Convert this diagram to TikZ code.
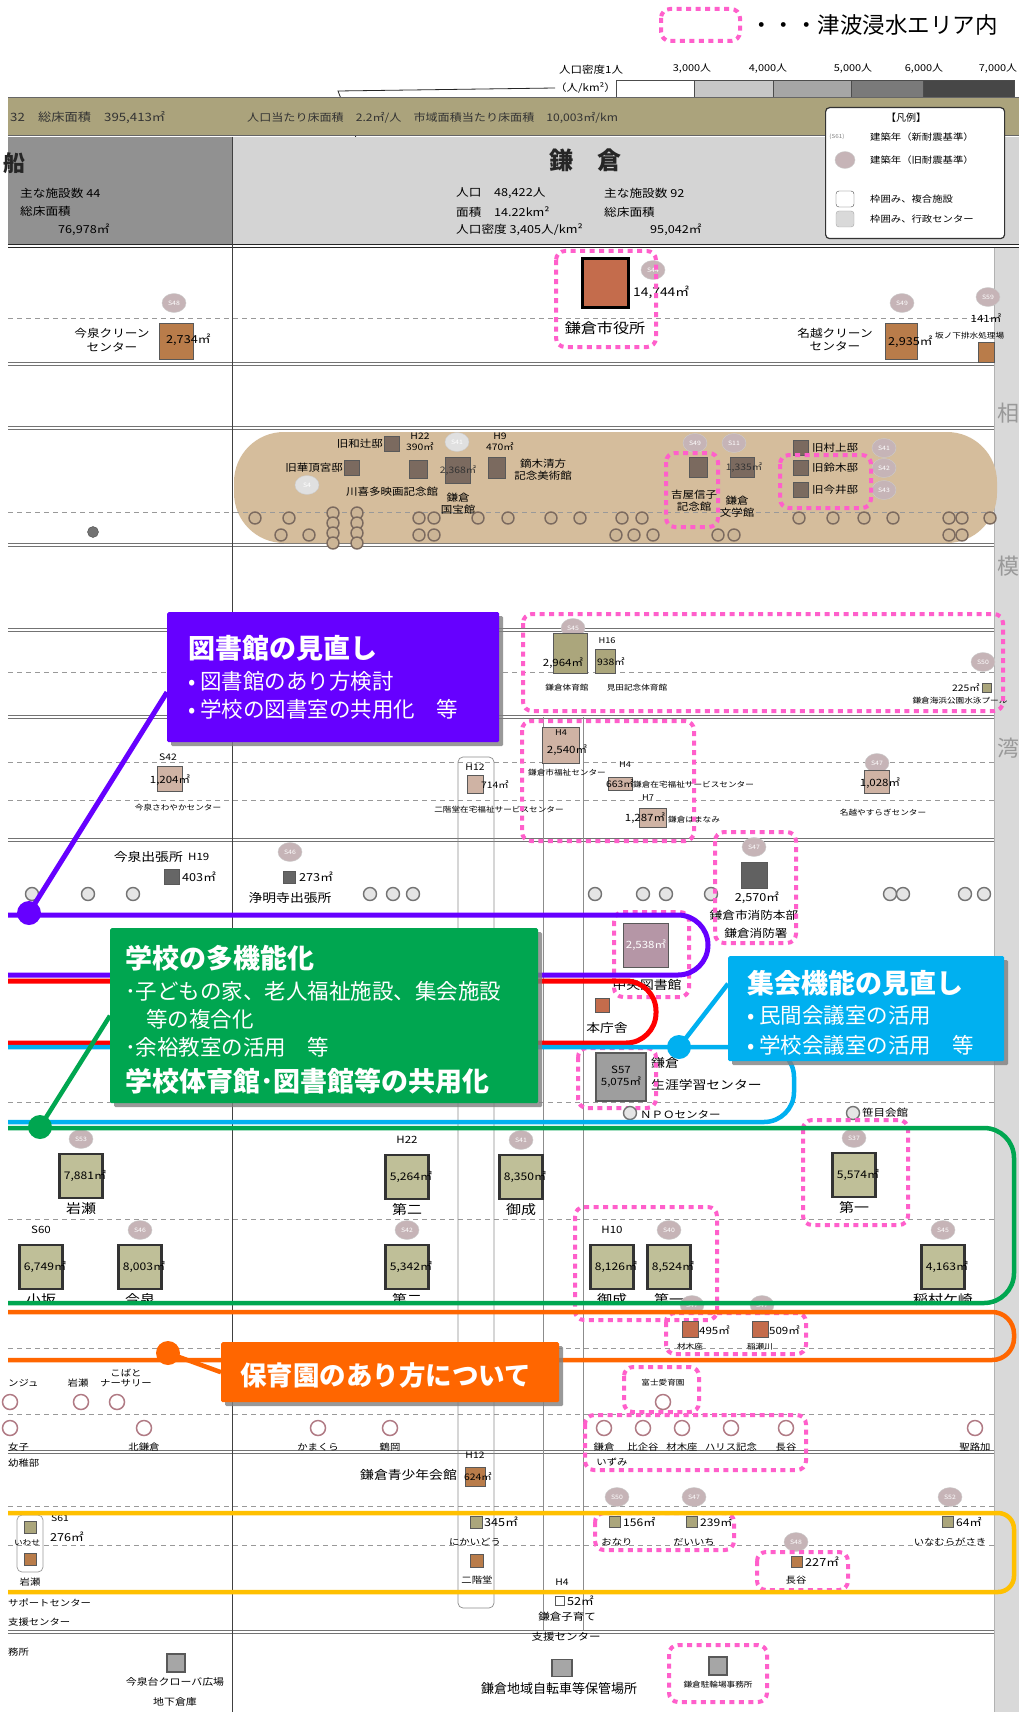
\documentclass[tikz,border=0pt]{standalone}
\usepackage{fontspec}
\setmainfont{Noto Sans CJK JP}
\newfontfamily\mapfont[FakeStretch=1.15]{Noto Sans CJK JP}
\usetikzlibrary{shapes.geometric,shadows}
\definecolor{tsunami}{HTML}{FF5FCB}
\definecolor{libpurple}{HTML}{6600FF}
\definecolor{schgreen}{HTML}{00A650}
\definecolor{mtgblue}{HTML}{00B0F0}
\definecolor{nurorange}{HTML}{FF6600}
\definecolor{kidyellow}{HTML}{FFC000}
\definecolor{bandolive}{HTML}{ABA37C}
\definecolor{tanband}{HTML}{D5BD9C}
\definecolor{oldbadge}{HTML}{C6B4B7}
\definecolor{hallbrown}{HTML}{C46C4C}
\definecolor{cleanbrown}{HTML}{B97C4A}
\definecolor{heritage}{HTML}{7B6A5F}
\definecolor{schoolfill}{HTML}{BFBF98}
\definecolor{welfare}{HTML}{CFB3A4}
\definecolor{sportfill}{HTML}{ABA67C}
\definecolor{libmauve}{HTML}{B596A6}
\definecolor{nurring}{HTML}{B07A84}
\newcommand{\mapsz}[1]{\mapfont\fontsize{#1}{\fpeval{1.2*#1}}\selectfont}
\newcommand{\boxsz}[1]{\fontsize{#1}{\fpeval{1.2*#1}}\selectfont}

\begin{document}
\begin{tikzpicture}[x=1pt, y=-1pt,
  zone/.style={draw=tsunami, line width=4pt, dash pattern=on 5pt off 4.5pt, rounded corners=9pt},
  rowsep/.style={draw=black!55, line width=0.6pt, double, double distance=2.2pt},
  subrow/.style={draw=black!40, line width=0.7pt, dash pattern=on 5pt off 4pt},
  sq/.style={draw=black!65, line width=0.7pt, inner sep=0pt, minimum size=16pt},
  school/.style={draw=black!80, line width=2.5pt, fill=schoolfill, inner sep=0pt, minimum width=43pt, minimum height=44pt},
  badge/.style={ellipse, fill=oldbadge, draw=black!20, inner sep=0pt, minimum width=24pt, minimum height=19pt, font=\mapsz{6}, text=white},
  yrplain/.style={inner sep=0pt, font=\mapsz{10}},
  ring/.style={circle, draw=black!55, line width=1.4pt, fill=black!10, minimum size=13pt, inner sep=0pt},
  bandring/.style={circle, draw=heritage, line width=1.4pt, fill=tanband!80!black!20!tanband, minimum size=12pt, inner sep=0pt},
  nring/.style={circle, draw=nurring, line width=1.5pt, fill=white, minimum size=15pt, inner sep=0pt},
  num/.style={inner sep=0pt, font=\mapsz{10}},
  labS/.style={inner sep=0pt, align=center, font=\mapsz{7.5}},
  labM/.style={inner sep=0pt, align=center, font=\mapsz{9}},
  labL/.style={inner sep=0pt, align=center, font=\mapsz{11}},
  labXL/.style={inner sep=0pt, align=center, font=\mapsz{14}},
  callbox/.style={anchor=north west, inner sep=0pt, rounded corners=1.5pt,
    drop shadow={shadow xshift=4pt, shadow yshift=-4pt, fill=black!50, opacity=0.8}},
  calltitle/.style={anchor=west, inner sep=0pt, text=white, font=\boxsz{27}\bfseries},
  callitem/.style={anchor=west, inner sep=0pt, text=white, font=\boxsz{21.5}},
  calldot/.style={circle, inner sep=0pt, minimum size=24pt}]
\useasboundingbox (0,0) rectangle (1019,1712);
\fill[white] (0,0) rectangle (1019,1712);
% ---------------- key and density scale ----------------
\draw[zone] (661,9) rectangle (740,41);
\node[anchor=west, inner sep=0pt, font=\boxsz{22.5}] (tzkey) at (750,25) {・・・津波浸水エリア内};
\node[anchor=west, inner sep=0pt, font=\mapsz{10}] (denslab) at (559,70) {人口密度1人};
\node[anchor=west, inner sep=0pt, font=\mapsz{10}] (densunit) at (555,88) {（人/km²）};
\foreach \a/\b/\c in {616/694/white, 694/773/black!22, 773/851/black!35, 851/923/black!52, 923/1014/black!72}
  \draw[black!70, fill=\c] (\a,80) rectangle (\b,97);
\foreach \p/\t [count=\i] in {692/3,768/4,853/5,924/6,998/7}
  \node[inner sep=0pt, font=\mapsz{9.5}] (dens\i) at (\p,69) {\t,000人};
\coordinate (ptrbend) at (338,91);
\coordinate (ptrend) at (377,192);
\draw[black!85, line width=0.8pt] (densunit.west) -- (ptrbend) -- (ptrend);
% ---------------- header ----------------
\fill[bandolive] (8,98) rectangle (1019,136);
\draw[black!60, line width=1pt] (8,98) -- (1019,98) (8,136) -- (1019,136);
\node[anchor=west, inner sep=0pt, font=\mapsz{11.5}, text=black!80] (totfloor) at (10,118) {32　総床面積　395,413㎡};
\node[anchor=west, inner sep=0pt, font=\mapsz{10.5}, text=black!80] (perfloor) at (247,118)
  {人口当たり床面積　2.2㎡/人　市域面積当たり床面積　10,003㎡/km};
\fill[black!43] (8,137) rectangle (232,245);
\fill[black!17] (232,137) rectangle (1019,245);
\draw[black!85, line width=1.2pt, double, double distance=2pt] (8,246) -- (1019,246);
\node[inner sep=0pt, font=\boxsz{22}\bfseries, text=black!85] (ofuna) at (14,163) {船};
\node[anchor=west, inner sep=0pt, font=\mapsz{11}] (ofn1) at (20,193) {主な施設数 44};
\node[anchor=west, inner sep=0pt, font=\mapsz{11}] (ofn2) at (20,211) {総床面積};
\node[anchor=west, inner sep=0pt, font=\mapsz{11}] (ofn3) at (58,230) {76,978㎡};
\node[inner sep=0pt, font=\boxsz{24}\bfseries, text=black!85] (kamakura) at (585,160) {鎌　倉};
\node[anchor=west, inner sep=0pt, font=\mapsz{11}] (kmk1) at (456,193) {人口　48,422人};
\node[anchor=west, inner sep=0pt, font=\mapsz{11}] (kmk2) at (456,212) {面積　14.22km²};
\node[anchor=west, inner sep=0pt, font=\mapsz{11}] (kmk3) at (456,230) {人口密度 3,405人/km²};
\node[anchor=west, inner sep=0pt, font=\mapsz{11}] (kmk4) at (604,193) {主な施設数 92};
\node[anchor=west, inner sep=0pt, font=\mapsz{11}] (kmk5) at (604,212) {総床面積};
\node[anchor=west, inner sep=0pt, font=\mapsz{11}] (kmk6) at (650,230) {95,042㎡};
\node[draw=black!80, line width=1.2pt, fill=white, rounded corners=4pt, minimum width=179pt, minimum height=131pt, anchor=north west] (legend) at (825,107) {};
\node[inner sep=0pt, font=\boxsz{10}] (legtitle) at (906,118) {【凡例】};
\node[inner sep=0pt, font=\mapsz{5.5}, text=black!50] (legnew) at (837,137) {(S61)};
\node[anchor=west, inner sep=0pt, font=\mapsz{9}] (legnewtxt) at (870,137) {建築年（新耐震基準）};
\node[badge, minimum width=20pt, minimum height=17pt] (legold) at (845,160) {};
\node[anchor=west, inner sep=0pt, font=\mapsz{9}] (legoldtxt) at (870,160) {建築年（旧耐震基準）};
\node[draw=black!70, fill=white, rounded corners=3pt, minimum width=18pt, minimum height=16pt] (legcomp) at (845,199) {};
\node[anchor=west, inner sep=0pt, font=\mapsz{9}] (legcomptxt) at (870,199) {枠囲み、複合施設};
\node[draw=black!35, fill=black!15, rounded corners=3pt, minimum width=18pt, minimum height=16pt] (legadm) at (845,219) {};
\node[anchor=west, inner sep=0pt, font=\mapsz{9}] (legadmtxt) at (870,219) {枠囲み、行政センター};
% ---------------- grid ----------------
\fill[black!15] (994,248) rectangle (1019,1712);
\draw[black!30] (994,248) -- (994,1712);
\node[inner sep=0pt, font=\boxsz{22}, text=black!40] (sagami1) at (1008,413) {相};
\node[inner sep=0pt, font=\boxsz{22}, text=black!40] (sagami2) at (1008,566) {模};
\node[inner sep=0pt, font=\boxsz{22}, text=black!40] (sagami3) at (1008,748) {湾};
\foreach \y in {364,428,545,630,717,840,1452,1632}
  \draw[rowsep] (8,\y) -- (994,\y);
\foreach \y in {318,512,672,762,800,1102,1219,1348,1414,1506,1545}
  \draw[subrow] (8,\y) -- (994,\y);
\draw[black!75, line width=1pt] (232,137) -- (232,1712);
\draw[black!45, line width=0.7pt, rounded corners=5pt] (458,757) rectangle (494,1608);
\draw[black!45, line width=0.7pt] (543,717) -- (543,1630) (583,717) -- (583,1630);
% ---------------- row 1: city hall, clean centres ----------------
\node[sq, fill=hallbrown, draw=black, line width=3pt, minimum width=46pt, minimum height=49pt] (hall) at (605,283) {};
\node[badge] (hallyr) at (653,270) {S44};
\node[anchor=west, num, font=\mapsz{12}] (hallarea) at (633,292) {14,744㎡};
\node[labXL] (halllab) at (605,328) {鎌倉市役所};
\draw[zone] (556,251) rectangle (656,347);
\node[sq, fill=cleanbrown, minimum width=34pt, minimum height=36pt] (imaclean) at (176,341) {};
\node[badge] (imacleanyr) at (174,303) {S48};
\node[anchor=west, num, font=\mapsz{11}] (imacleanar) at (166,340) {2,734㎡};
\node[labL] (imacleanlab) at (112,340) {今泉クリーン\\センター};
\node[sq, fill=cleanbrown, minimum width=32pt, minimum height=36pt] (nagoclean) at (901,341) {};
\node[badge] (nagocleanyr) at (902,303) {S49};
\node[anchor=west, num, font=\mapsz{11}] (nagocleanar) at (888,342) {2,935㎡};
\node[labL] (nagocleanlab) at (835,340) {名越クリーン\\センター};
\node[sq, fill=cleanbrown, minimum width=16pt, minimum height=20pt] (sakano) at (986,352) {};
\node[badge] (sakanoyr) at (988,297) {S59};
\node[num] (sakanoar) at (986,318) {141㎡};
\node[anchor=west, inner sep=0pt, font=\mapsz{7.5}] (sakanolab) at (935,336) {坂ノ下排水処理場};
% ---------------- row 3: heritage band ----------------
\fill[tanband, rounded corners=50pt] (234,432) rectangle (997,543);
\draw[subrow] (234,512) -- (994,512);
\node[sq, fill=heritage, minimum size=15pt] (watsuji) at (392,444) {};
\node[anchor=east, labM, font=\mapsz{10}] (watsujilab) at (383,444) {旧和辻邸};
\node[sq, fill=heritage, minimum size=15pt] (kacho) at (352,468) {};
\node[anchor=east, labM, font=\mapsz{10}] (kacholab) at (343,468) {旧華頂宮邸};
\node[badge, fill=black!12] (kachoyr) at (307,485) {S4};
\node[sq, fill=heritage, minimum width=18pt, minimum height=18pt] (kawa) at (418,469) {};
\node[labM] (kawaar) at (420,442) {H22\\390㎡};
\node[labM, font=\mapsz{10}] (kawalab) at (392,492) {川喜多映画記念館};
\node[badge, fill=black!12] (kokuyr) at (457,442) {S41};
\node[sq, fill=heritage, minimum width=25pt, minimum height=26pt] (koku) at (458,470) {};
\node[num, font=\mapsz{9}, text=black!80] (kokuar) at (458,470) {2,368㎡};
\node[labM, font=\mapsz{10}] (kokulab) at (458,504) {鎌倉\\国宝館};
\node[sq, fill=heritage, minimum width=17pt, minimum height=21pt] (kabu) at (497,468) {};
\node[labM] (kabuar) at (500,442) {H9\\470㎡};
\node[labM, font=\mapsz{10}] (kabulab) at (543,470) {鏑木清方\\記念美術館};
\node[badge] (yoshiyr) at (695,443) {S49};
\node[sq, fill=heritage, minimum width=18pt, minimum height=20pt] (yoshi) at (698,467) {};
\node[labM, font=\mapsz{10}] (yoshilab) at (694,501) {吉屋信子\\記念館};
\draw[zone] (666,453) rectangle (718,527);
\node[badge] (bungyr) at (734,443) {S11};
\node[sq, fill=heritage, minimum width=24pt, minimum height=20pt] (bungaku) at (742,467) {};
\node[num, font=\mapsz{9}, text=black!80] (bungar) at (744,467) {1,335㎡};
\node[labM, font=\mapsz{10}] (bunglab) at (737,507) {鎌倉\\文学館};
\foreach \yy/\nm [count=\i] in {448/旧村上邸,468/旧鈴木邸,490/旧今井邸}{
  \node[sq, fill=heritage, minimum size=15pt] (old\i) at (801,\yy) {};
  \node[anchor=west, labM, font=\mapsz{10}] (oldlab\i) at (812,\yy) {\nm};
  \node[badge] (oldyr\i) at (884,\yy) {S4\i};}
\draw[zone] (780,455) rectangle (871,508);
\foreach \cx [count=\i] in {255,289,419,434,478,508,551,580,622,642,799,833,864,893,949,962,990}
  \node[bandring] (bt\i) at (\cx,518) {};
\foreach \cx [count=\i] in {281,309,419,434,616,634,653,718,734,949,962}
  \node[bandring] (bb\i) at (\cx,535) {};
\foreach \cy [count=\i] in {513,523,533,543}{
  \node[bandring] (bsa\i) at (333,\cy) {};
  \node[bandring] (bsb\i) at (357,\cy) {};}
\node[circle, fill=black!55, draw=black!70, minimum size=11pt, inner sep=0pt] (lonering) at (93,532) {};
% ---------------- row 5: sports ----------------
\node[badge] (chutaiyr) at (573,628) {S45};
\node[sq, fill=sportfill, minimum width=34pt, minimum height=40pt] (chutai) at (570,653) {};
\node[num] (chutaiar) at (563,663) {2,964㎡};
\node[labS] (chutailab) at (567,688) {鎌倉体育館};
\node[num, font=\mapsz{8}] (mitayr) at (607,641) {H16};
\node[sq, fill=sportfill, minimum width=20pt, minimum height=24pt] (mita) at (605,661) {};
\node[num, font=\mapsz{9}] (mitaar) at (611,662) {938㎡};
\node[labS] (mitalab) at (637,688) {見田記念体育館};
\node[badge] (poolyr) at (983,662) {S50};
\node[sq, fill=sportfill, minimum size=9pt] (pool) at (987,688) {};
\node[num, font=\mapsz{9}] (poolar) at (966,688) {225㎡};
\node[labS] (poollab) at (960,701) {鎌倉海浜公園水泳プール};
\draw[zone] (523,614) rectangle (1003,711);
% ---------------- row 6: welfare ----------------
\node[num, font=\mapsz{9}] (sawayr) at (168,757) {S42};
\node[sq, fill=welfare, minimum size=25pt] (sawa) at (170,779) {};
\node[num] (sawaar) at (170,780) {1,204㎡};
\node[labS] (sawalab) at (178,808) {今泉さわやかセンター};
\node[num, font=\mapsz{9}] (nikaiyr) at (475,767) {H12};
\node[sq, fill=welfare, minimum width=16pt, minimum height=18pt] (nikai) at (475,784) {};
\node[anchor=west, num, font=\mapsz{9}] (nikaiar) at (481,785) {714㎡};
\node[labS] (nikailab) at (499,810) {二階堂在宅福祉サービスセンター};
\node[sq, fill=welfare, minimum width=37pt, minimum height=36pt] (fukushi) at (561,745) {};
\node[num, font=\mapsz{8}] (fukushiyr) at (561,733) {H4};
\node[num] (fukushiar) at (567,750) {2,540㎡};
\node[labS] (fukushilab) at (567,773) {鎌倉市福祉センター};
\node[num, font=\mapsz{8}] (zaitakuyr) at (625,765) {H4};
\node[sq, fill=welfare, minimum width=24pt, minimum height=13pt] (zaitaku) at (620,784) {};
\node[num, font=\mapsz{9}] (zaitakuar) at (620,784) {663㎡};
\node[anchor=west, labS] (zaitakulab) at (633,785) {鎌倉在宅福祉サービスセンター};
\node[num, font=\mapsz{8}] (hamayr) at (648,798) {H7};
\node[sq, fill=welfare, minimum width=27pt, minimum height=19pt] (hama) at (653,818) {};
\node[num] (hamaar) at (645,818) {1,287㎡};
\node[anchor=west, labS] (hamalab) at (668,820) {鎌倉はまなみ};
\draw[zone] (522,721) rectangle (694,841);
\node[badge] (yasuyr) at (877,763) {S47};
\node[sq, fill=welfare, minimum width=25pt, minimum height=23pt] (yasu) at (877,782) {};
\node[num] (yasuar) at (880,783) {1,028㎡};
\node[labS] (yasulab) at (883,813) {名越やすらぎセンター};
% ---------------- row 7: branch offices ----------------
\node[anchor=east, labL, font=\mapsz{12}] (imade) at (183,857) {今泉出張所};
\node[anchor=west, num] (imadeyr) at (188,857) {H19};
\node[sq, fill=black!60, minimum size=15pt] (imadesq) at (172,877) {};
\node[anchor=west, num, font=\mapsz{11}] (imadear) at (182,877) {403㎡};
\node[badge] (jomyoyr) at (290,852) {S46};
\node[sq, fill=black!60, minimum size=12pt] (jomyosq) at (289,877) {};
\node[anchor=west, num, font=\mapsz{11}] (jomyoar) at (299,877) {273㎡};
\node[labL, font=\mapsz{12}] (jomyo) at (290,898) {浄明寺出張所};
\foreach \cx [count=\i] in {32,88,133,370,393,413,595,643,666,711,890,903,965,984}
  \node[ring] (ad\i) at (\cx,894) {};
\node[badge] (fireyr) at (754,847) {S47};
\node[sq, fill=black!62, minimum size=26pt] (fire) at (754,875) {};
\node[num, font=\mapsz{11}] (firear) at (757,898) {2,570㎡};
\node[labL] (firelab1) at (754,915) {鎌倉市消防本部};
\node[labL] (firelab2) at (756,933) {鎌倉消防署};
\draw[zone] (715,832) rectangle (796,943);
% ---------------- library, meeting rooms ----------------
\node[sq, fill=libmauve, minimum width=45pt, minimum height=44pt] (chuolib) at (646,945) {};
\node[num, text=white] (chuolibar) at (646,945) {2,538㎡};
\node[labL, font=\mapsz{12}] (chuoliblab) at (647,985) {中央図書館};
\draw[zone] (614,912) rectangle (689,997);
\node[sq, fill=hallbrown, minimum size=14pt] (honcho) at (602,1005) {};
\node[labL, font=\mapsz{12}] (honcholab) at (607,1028) {本庁舎};
\node[sq, fill=black!38, draw=black!65, line width=1.5pt, minimum width=50pt, minimum height=48pt] (shogai) at (621,1077) {};
\node[labM, font=\mapsz{10}] (shogaiar) at (621,1077) {S57\\5,075㎡};
\node[anchor=west, labL, font=\mapsz{12}] (shogailab1) at (651,1063) {鎌倉};
\node[anchor=west, labL, font=\mapsz{12}] (shogailab2) at (651,1085) {生涯学習センター};
\draw[zone] (578,1048) rectangle (656,1108);
\node[ring] (npo) at (630,1113) {};
\node[anchor=west, labM, font=\mapsz{10}] (npolab) at (640,1115) {ＮＰＯセンター};
\node[ring] (sasa) at (853,1113) {};
\node[anchor=west, labM, font=\mapsz{10}] (sasalab) at (862,1113) {笹目会館};
% ---------------- schools ----------------
\foreach \nm/\cx/\cy/\ar/\yr/\bs/\tx in
  {iwase/81/1176/{7,881}/S53/badge/岩瀬, dai2j/407/1177/{5,264}/H22/yrplain/第二,
   onarij/521/1177/{8,350}/S41/badge/御成, dai1j/854/1175/{5,574}/S37/badge/第一,
   kosaka/41/1267/{6,749}/S60/yrplain/小坂, imaizumi/140/1267/{8,003}/S46/badge/今泉,
   dai2e/407/1267/{5,342}/S42/badge/第二, onarie/612/1267/{8,126}/H10/yrplain/御成,
   dai1e/669/1267/{8,524}/S40/badge/第一, inamura/943/1267/{4,163}/S45/badge/稲村ケ崎}{
  \node[school] (\nm) at (\cx,\cy) {};
  \node[num, font=\mapsz{10.5}] (\nm ar) at (\cx+4,\cy) {\ar㎡};
  \node[\bs] (\nm yr) at (\cx,\cy-37) {\yr};
  \node[labXL, font=\mapsz{13}] (\nm lab) at (\cx,\cy+33) {\tx};}
\draw[zone] (803,1120) rectangle (908,1225);
\draw[zone] (575,1207) rectangle (717,1320);
% ---------------- children's houses, nurseries ----------------
\foreach \nm/\cx/\ar/\tx in {zaimoku/690/495/材木座, inase/760/509/稲瀬川}{
  \node[badge] (\nm yr) at (\cx+2,1305) {S47};
  \node[sq, fill=hallbrown, minimum size=16pt] (\nm) at (\cx,1329) {};
  \node[anchor=west, num] (\nm ar) at (\cx+9,1330) {\ar㎡};
  \node[labS] (\nm lab) at (\cx,1347) {\tx};}
\draw[zone] (666,1313) rectangle (806,1354);
\node[anchor=west, labM] (nur1lab) at (8,1383) {ンジュ};
\node[nring] (nur1) at (10,1402) {};
\node[labM] (nur2lab) at (78,1383) {岩瀬};
\node[nring] (nur2) at (81,1402) {};
\node[labM] (nur3lab) at (126,1378) {こばと\\ナーサリー};
\node[nring] (nur3) at (117,1402) {};
\node[labS] (fujilab) at (663,1383) {富士愛育園};
\node[nring] (fuji) at (663,1402) {};
\draw[zone] (624,1367) rectangle (699,1412);
\node[nring] (kin0) at (10,1428) {};
\node[anchor=west, labM] (kin0lab) at (8,1447) {女子};
\node[anchor=west, labM] (kin0lab2) at (8,1463) {幼稚部};
\foreach \cx/\tx [count=\i] in {144/北鎌倉, 318/かまくら, 390/鶴岡, 604/鎌倉, 643/比企谷, 682/材木座, 731/ハリス記念, 786/長谷, 975/聖路加}{
  \node[nring] (kin\i) at (\cx,1428) {};
  \node[labM] (kin\i lab) at (\cx,1447) {\tx};}
\node[labM] (kin4lab2) at (612,1462) {いずみ};
\draw[zone] (585,1415) rectangle (806,1470);
% ---------------- youth and child-care ----------------
\node[num, font=\mapsz{9}] (seishoyr) at (475,1455) {H12};
\node[sq, fill=cleanbrown, minimum width=20pt, minimum height=19pt] (seisho) at (475,1477) {};
\node[num, font=\mapsz{9}] (seishoar) at (478,1477) {624㎡};
\node[anchor=east, labL, font=\mapsz{12}] (seisholab) at (457,1475) {鎌倉青少年会館};
\node[sq, fill=sportfill, minimum size=12pt] (nkd1) at (476,1522) {};
\node[anchor=west, num, font=\mapsz{11}] (nkd1ar) at (484,1522) {345㎡};
\node[labM] (nkd1lab) at (475,1542) {にかいどう};
\node[sq, fill=cleanbrown, minimum size=13pt] (nkd2) at (477,1561) {};
\node[labM] (nkd2lab) at (477,1580) {二階堂};
\draw[black!40, line width=0.7pt, rounded corners=5pt] (17,1515) rectangle (43,1572);
\node[sq, fill=sportfill, minimum size=12pt] (iws1) at (30,1527) {};
\node[num, font=\mapsz{9}] (iws1yr) at (60,1518) {S61};
\node[num, font=\mapsz{11}] (iws1ar) at (67,1537) {276㎡};
\node[labS] (iws1lab) at (27,1543) {いわせ};
\node[sq, fill=cleanbrown, minimum size=12pt] (iws2) at (30,1559) {};
\node[labM] (iws2lab) at (30,1582) {岩瀬};
\node[anchor=west, labM] (suplab1) at (8,1603) {サポートセンター};
\node[anchor=west, labM] (suplab2) at (8,1622) {支援センター};
\foreach \nm/\cx/\ar/\tx/\yr in {onr/615/156/おなり/S50, dic/692/239/だいいち/S47, ing/948/64/いなむらがさき/S52}{
  \node[badge] (\nm yr) at (\cx+2,1497) {\yr};
  \node[sq, fill=sportfill, minimum size=11pt] (\nm) at (\cx,1522) {};
  \node[anchor=west, num, font=\mapsz{10.5}] (\nm ar) at (\cx+8,1522) {\ar㎡};
  \node[labM] (\nm lab) at (\cx+2,1542) {\tx};}
\draw[zone] (595,1513) rectangle (734,1550);
\node[badge] (haseyr) at (796,1542) {S48};
\node[sq, fill=cleanbrown, minimum size=11pt] (hase) at (797,1562) {};
\node[anchor=west, num, font=\mapsz{11}] (hasear) at (805,1562) {227㎡};
\node[labM] (haselab) at (796,1580) {長谷};
\draw[zone] (757,1552) rectangle (848,1590);
\node[num, font=\mapsz{9}] (kosoyr) at (562,1582) {H4};
\node[sq, fill=white, minimum size=9pt] (koso) at (560,1601) {};
\node[anchor=west, num, font=\mapsz{11}] (kosoar) at (567,1601) {52㎡};
\node[labM, font=\mapsz{10}] (kosolab1) at (567,1617) {鎌倉子育て};
\node[labM, font=\mapsz{10}] (kosolab2) at (566,1637) {支援センター};
% ---------------- storage ----------------
\node[anchor=west, labM] (misclab) at (8,1652) {務所};
\node[sq, fill=black!35, line width=1.2pt, minimum size=18pt] (clover) at (176,1663) {};
\node[labM, font=\mapsz{9.5}] (cloverlab1) at (175,1682) {今泉台クローバ広場};
\node[labM, font=\mapsz{9.5}] (cloverlab2) at (175,1702) {地下倉庫};
\node[sq, fill=black!35, line width=1.2pt, minimum width=20pt, minimum height=17pt] (bike) at (562,1668) {};
\node[inner sep=0pt, font=\boxsz{13}] (bikelab) at (559,1689) {鎌倉地域自転車等保管場所};
\node[sq, fill=black!35, line width=1.2pt, minimum size=18pt] (cycle) at (718,1666) {};
\node[labS] (cyclelab) at (718,1685) {鎌倉駐輪場事務所};
\draw[zone] (669,1645) rectangle (767,1702);
% ---------------- policy loops ----------------
\draw[libpurple, line width=5pt, rounded corners=30pt] (8,915) -- (708,915) -- (708,975) -- (8,975);
\draw[red, line width=5pt, rounded corners=30pt] (8,981) -- (656,981) -- (656,1043) -- (8,1043);
\draw[mtgblue, line width=4.5pt, rounded corners=30pt] (8,1047) -- (794,1047) -- (794,1122) -- (8,1122);
\draw[schgreen, line width=4.5pt, rounded corners=30pt] (8,1128) -- (1014,1128) -- (1014,1303) -- (8,1303);
\draw[nurorange, line width=4.5pt, rounded corners=22pt] (8,1312) -- (1014,1312) -- (1014,1360) -- (8,1360);
\draw[kidyellow, line width=4.5pt, rounded corners=16pt] (8,1513) -- (1014,1513) -- (1014,1592) -- (8,1592);
% ---------------- call-outs ----------------
\node[callbox, fill=libpurple, minimum width=332pt, minimum height=130pt] (libbox) at (167,612) {};
\node[callbox, fill=schgreen, minimum width=428pt, minimum height=175pt] (schbox) at (110,928) {};
\node[callbox, fill=mtgblue, minimum width=276pt, minimum height=105pt] (mtgbox) at (728,956) {};
\node[callbox, fill=nurorange, minimum width=338pt, minimum height=60pt] (nurbox) at (221,1342) {};
\coordinate (libdotc) at (29,913);
\coordinate (schdotc) at (40,1127);
\coordinate (mtgdotc) at (679,1047);
\coordinate (nurdotc) at (168,1353);
\draw[libpurple, line width=5pt] (libdotc) -- ([yshift=-15pt]libbox.west);
\draw[schgreen, line width=4.5pt] (schdotc) -- (schbox.west);
\draw[mtgblue, line width=4.5pt] (mtgdotc) -- ([yshift=25pt]mtgbox.west);
\draw[nurorange, line width=4.5pt] (nurdotc) -- (nurbox.west);
\node[calldot, fill=libpurple] (libdot) at (libdotc) {};
\node[calldot, fill=schgreen] (schdot) at (schdotc) {};
\node[calldot, fill=mtgblue] (mtgdot) at (mtgdotc) {};
\node[calldot, fill=nurorange] (nurdot) at (nurdotc) {};
\node[calltitle] (libt1) at (188,648) {図書館の見直し};
\node[callitem] (libt2) at (188,681) {• 図書館のあり方検討};
\node[callitem] (libt3) at (188,709) {• 学校の図書室の共用化　等};
\node[calltitle] (scht1) at (125,958) {学校の多機能化};
\node[callitem] (scht2) at (125,991) {･子どもの家、老人福祉施設、集会施設};
\node[callitem] (scht3) at (146,1019) {等の複合化};
\node[callitem] (scht4) at (125,1047) {･余裕教室の活用　等};
\node[calltitle] (scht5) at (125,1081) {学校体育館･図書館等の共用化};
\node[calltitle] (mtgt1) at (747,983) {集会機能の見直し};
\node[callitem] (mtgt2) at (747,1015) {• 民間会議室の活用};
\node[callitem] (mtgt3) at (747,1045) {• 学校会議室の活用　等};
\node[calltitle, font=\boxsz{26.5}\bfseries] (nurt1) at (240,1375) {保育園のあり方について};
\end{tikzpicture}
\end{document}
